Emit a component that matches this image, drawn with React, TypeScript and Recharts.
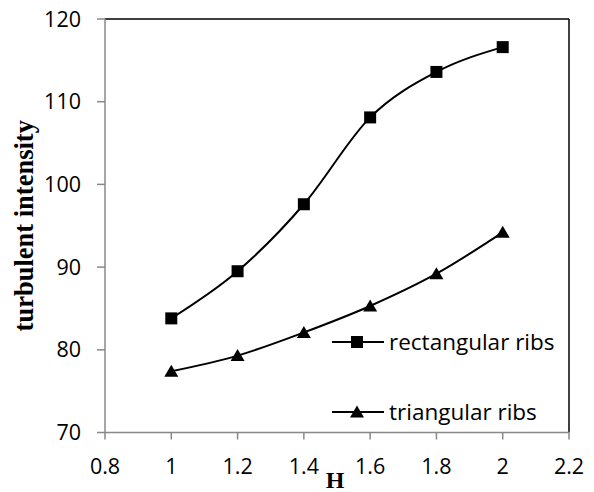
import React from 'react';
import { LineChart, Line, XAxis, YAxis, ReferenceLine, Legend, Label } from 'recharts';

const hValues = [1, 1.2, 1.4, 1.6, 1.8, 2];
const rectangularRibs = [83.8, 89.5, 97.6, 108.1, 113.6, 116.6];
const triangularRibs = [77.4, 79.3, 82.1, 85.3, 89.2, 94.2];
const xTicks = [0.8, 1, 1.2, 1.4, 1.6, 1.8, 2, 2.2];
const yTicks = [70, 80, 90, 100, 110, 120];

const data = hValues.map((h, i) => ({ h, rect: rectangularRibs[i], tri: triangularRibs[i] }));

const FONT = '"Open Sans", sans-serif';
const SERIF = '"Liberation Serif", "Times New Roman", serif';

const Square = (props: any) => {
  const { cx, cy } = props;
  if (cx == null || cy == null) return null;
  return <rect x={cx - 6} y={cy - 6} width={12} height={12} fill="#000" />;
};
const Tri = (props: any) => {
  const { cx, cy } = props;
  if (cx == null || cy == null) return null;
  return <polygon points={`${cx},${cy - 6.5} ${cx + 7},${cy + 5.5} ${cx - 7},${cy + 5.5}`} fill="#000" />;
};

const LegendContent = () => {
  const row = (label: string, marker: React.ReactNode, top: number) => (
    <div style={{ position: 'absolute', left: 0, top, display: 'flex', alignItems: 'center', height: 26 }}>
      <svg width={57} height={26} style={{ display: 'block' }}>
        <line x1={0} y1={13} x2={52} y2={13} stroke="#000" strokeWidth={2} />
        {marker}
      </svg>
      <span style={{ fontFamily: FONT, fontSize: 22.5, color: '#000', whiteSpace: 'nowrap', lineHeight: '26px' }}>{label}</span>
    </div>
  );
  return (
    <div style={{ position: 'relative', width: 260, height: 100 }}>
      {row('rectangular ribs', <rect x={19} y={7} width={12} height={12} fill="#000" />, 0)}
      {row('triangular ribs', <polygon points="25,6.5 32,18.5 18,18.5" fill="#000" />, 70)}
    </div>
  );
};

const YTitle = (props: any) => {
  const { viewBox } = props;
  const cy = viewBox.y + viewBox.height / 2;
  const cx = 33;
  return (
    <text x={cx} y={cy} transform={`rotate(-90, ${cx}, ${cy})`} textAnchor="middle"
      style={{ fontFamily: SERIF, fontWeight: 'bold', fontSize: 26.5, fill: '#000' }}>
      turbulent intensity
    </text>
  );
};

const XTitle = (props: any) => {
  const { viewBox } = props;
  const cx = viewBox.x + viewBox.width / 2 - 2;
  return (
    <text x={cx} y={488} textAnchor="middle"
      style={{ fontFamily: SERIF, fontWeight: 'bold', fontSize: 24, fill: '#000' }}>
      H
    </text>
  );
};

export default function App() {
  return (
    <div style={{ position: 'absolute', left: 0, top: 0, width: 594, height: 492, background: '#fff' }}>
      <LineChart width={594} height={492} data={data} margin={{ top: 19, right: 25, left: 0, bottom: 0 }}>
        <XAxis dataKey="h" type="number" domain={[0.8, 2.2]} ticks={xTicks} interval={0}
          axisLine={{ stroke: '#888', strokeWidth: 1.5 }} tickLine={{ stroke: '#888', strokeWidth: 1.5 }}
          tickSize={7} tickMargin={19} height={59.5}
          tick={{ fill: '#000', fontSize: 21.5, fontFamily: FONT }}>
          <Label content={<XTitle />} />
        </XAxis>
        <YAxis type="number" domain={[70, 120]} ticks={yTicks} interval={0} width={105}
          axisLine={{ stroke: '#888', strokeWidth: 1.5 }} tickLine={{ stroke: '#888', strokeWidth: 1.5 }}
          tickSize={8} tickMargin={16}
          tick={{ fill: '#000', fontSize: 21.5, fontFamily: FONT }}>
          <Label content={<YTitle />} />
        </YAxis>
        <ReferenceLine y={120} stroke="#000" strokeWidth={1.5} />
        <ReferenceLine x={2.2} stroke="#000" strokeWidth={1.5} />
        <Line type="monotone" dataKey="rect" stroke="#000" strokeWidth={2} dot={<Square />} activeDot={false} isAnimationActive={false} />
        <Line type="monotone" dataKey="tri" stroke="#000" strokeWidth={2} dot={<Tri />} activeDot={false} isAnimationActive={false} />
        <Legend content={<LegendContent />} layout="vertical" align="center" verticalAlign="middle"
          wrapperStyle={{ left: 332, top: 329, width: 260, height: 100 }} />
      </LineChart>
    </div>
  );
}
